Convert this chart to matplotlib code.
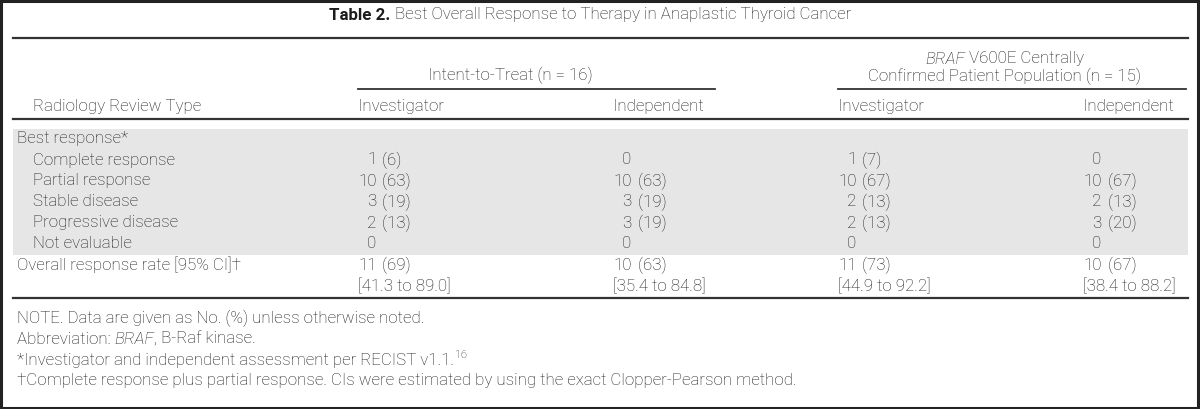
import matplotlib
matplotlib.use("Agg")
import matplotlib.pyplot as plt
from matplotlib.patches import Rectangle

# table content
title_bold = "Table 2."
title_rest = "Best Overall Response to Therapy in Anaplastic Thyroid Cancer"
row_labels = ["Complete response", "Partial response", "Stable disease",
              "Progressive disease", "Not evaluable"]
col_names = ["Investigator", "Independent", "Investigator", "Independent"]

# No. and (%) per column, None = no percentage shown
counts = [
    [1, 10, 3, 2, 0],   # ITT investigator
    [0, 10, 3, 3, 0],   # ITT independent
    [1, 10, 2, 2, 0],   # BRAF investigator
    [0, 10, 2, 3, 0],   # BRAF independent
]
pcts = [
    [6, 63, 19, 13, None],
    [None, 63, 19, 19, None],
    [7, 67, 13, 13, None],
    [None, 67, 13, 20, None],
]
orr_n = [11, 10, 11, 10]
orr_pct = [69, 63, 73, 67]
ci_low = [41.3, 35.4, 44.9, 38.4]
ci_high = [89.0, 84.8, 92.2, 88.2]

W, H = 1200, 409
fig = plt.figure(figsize=(W / 100, H / 100), dpi=100)
fig.patch.set_facecolor("white")
renderer = fig.canvas.get_renderer()

FONT = "Roboto"
FS = 12.2
TXT = "#1c1c1c"
LINE = "#333333"


def px(x):
    return x / W


def py(y):
    return 1 - y / H


def txt(x, y, s, ha="left", **kw):
    opts = dict(fontsize=FS, color=TXT, family=FONT, fontweight="light", va="center")
    opts.update(kw)
    return fig.text(px(x), py(y), s, ha=ha, **opts)


def width(t):
    return t.get_window_extent(renderer=renderer).width


def rich(x, y, parts, ha="left"):
    # parts: list of (string, extra kwargs); laid out left to right
    items = [txt(0, y, s, **kw) for s, kw in parts]
    ws = [width(t) for t in items]
    total = sum(ws)
    if ha == "center":
        x0 = x - total / 2
    elif ha == "right":
        x0 = x - total
    else:
        x0 = x
    for t, w in zip(items, ws):
        t.set_x(px(x0))
        x0 += w
    return items


def hline(y, x0, x1, lw=1.6):
    fig.add_artist(plt.Line2D([px(x0), px(x1)], [py(y), py(y)], color=LINE, lw=lw))


# frame
fig.add_artist(Rectangle((0.001, 0.002), 0.997, 0.996, transform=fig.transFigure,
                         fill=False, edgecolor="#222222", lw=2.2))

# grey band for best response block
fig.add_artist(Rectangle((px(13), py(255)), px(1188) - px(13), py(129) - py(255),
                         transform=fig.transFigure, facecolor="#e6e6e6",
                         edgecolor="none", zorder=0))

# title
rich(590, 15, [(title_bold + " ", dict(fontweight="bold")), (title_rest, {})],
     ha="center")

hline(38, 13, 1188)

# spanners
txt(510, 75, "Intent-to-Treat (n = 16)", ha="center")
hline(89, 358, 715, lw=1.3)
rich(1005, 59, [("BRAF", dict(style="italic")), (" V600E Centrally", {})], ha="center")
txt(1005, 76, "Confirmed Patient Population (n = 15)", ha="center")
hline(89, 838, 1186, lw=1.3)

# column header
txt(33, 107, "Radiology Review Type")
col_x = [358, 613, 838, 1083]
for cx, name in zip(col_x, col_names):
    txt(cx, 107, name)
hline(119, 13, 1188)

# body
txt(17, 139, "Best response*")
row_y = [160, 181, 202, 223, 244]
probe = txt(0, 0, "10")
num_w = width(probe)
probe.remove()
for lab, ry in zip(row_labels, row_y):
    txt(33, ry, lab)
for c, cx in enumerate(col_x):
    for r, ry in enumerate(row_y):
        txt(cx + num_w, ry, str(counts[c][r]), ha="right")
        if pcts[c][r] is not None:
            txt(cx + num_w + 2, ry, " (%d)" % pcts[c][r])

txt(17, 265, "Overall response rate [95% CI]\u2020")
for c, cx in enumerate(col_x):
    txt(cx + num_w, 265, str(orr_n[c]), ha="right")
    txt(cx + num_w + 2, 265, " (%d)" % orr_pct[c])
    txt(cx, 286, "[%.1f to %.1f]" % (ci_low[c], ci_high[c]))

hline(298, 13, 1188)

# footnotes
txt(17, 318, "NOTE. Data are given as No. (%) unless otherwise noted.")
rich(17, 339, [("Abbreviation: ", {}), ("BRAF", dict(style="italic")),
               (", B-Raf kinase.", {})])
parts = rich(17, 360, [("*Investigator and independent assessment per RECIST v1.1.", {})])
bb = parts[0].get_window_extent(renderer=renderer)
txt(bb.x1 + 1, 355, "16", fontsize=FS * 0.65)
txt(17, 381, "\u2020Complete response plus partial response. CIs were estimated by using "
             "the exact Clopper-Pearson method.")

fig.savefig("out.png", dpi=100)
